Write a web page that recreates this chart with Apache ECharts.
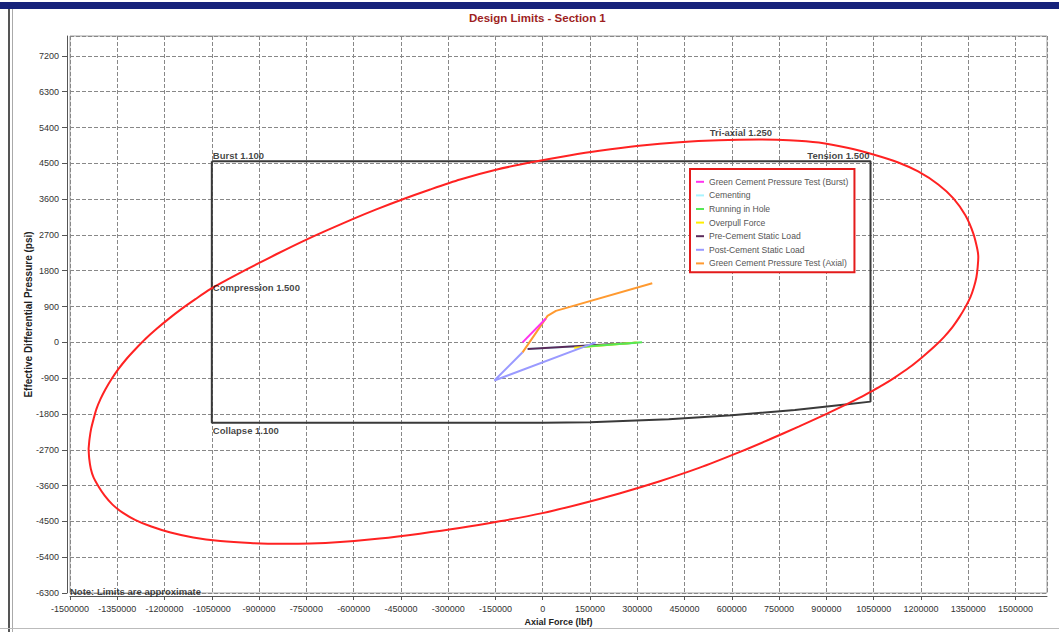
<!DOCTYPE html>
<html>
<head>
<meta charset="utf-8">
<title>Design Limits - Section 1</title>
<script src="https://cdn.jsdelivr.net/npm/echarts@6/dist/echarts.min.js"></script>
<style>
  html, body { margin: 0; padding: 0; background: #ffffff; }
  #chart { width: 1059px; height: 632px; }
</style>
</head>
<body>
<div id="chart"></div>
<script>
// ---- Axis settings (lbf / psi) ----
const xMin = -1500000, xMax = 1600000, xStep = 150000;
const yMin = -6300, yMax = 7700, yStep = 900;

// ---- Design limit envelope: burst top, tension right, collapse bottom, compression left ----
const designEnvelope = [
  [-1050000, 4550], [1040000, 4550], [1040000, -1490],
  [960000, -1560], [800000, -1700], [600000, -1830], [400000, -1930],
  [150000, -2010], [0, -2020], [-1050000, -2020], [-1050000, 4550]
];

// ---- Tri-axial 1.250 ellipse (axial force, differential pressure) ----
const triaxialEllipse = [
  [-1441000, -2675], [-1438000, -2424], [-1433000, -2174], [-1425000, -1923],
  [-1416000, -1672], [-1403000, -1421], [-1387000, -1171], [-1368000, -920],
  [-1346000, -669], [-1321000, -419], [-1292000, -168], [-1261000, 83],
  [-1226000, 334], [-1188000, 584], [-1147000, 835], [-1102000, 1086],
  [-1055000, 1336], [-998000, 1587], [-938000, 1838], [-877000, 2088],
  [-814000, 2339], [-748000, 2590], [-678000, 2840], [-605000, 3091],
  [-528000, 3342], [-446000, 3592], [-357000, 3843], [-262000, 4094],
  [-145000, 4345], [-23000, 4545], [84000, 4698], [180000, 4816],
  [306000, 4941], [433000, 5032], [559000, 5082], [685000, 5097],
  [781000, 5082], [876000, 5022], [970000, 4884], [1049000, 4721],
  [1128000, 4520], [1191000, 4295], [1255000, 3969], [1303000, 3618],
  [1341000, 3192], [1366000, 2740], [1379000, 2339], [1382000, 2138],
  [1380000, 1888], [1376000, 1637], [1368000, 1386], [1357000, 1136],
  [1341000, 885], [1322000, 634], [1300000, 384], [1273000, 133],
  [1241000, -118], [1205000, -366], [1164000, -627], [1119000, -872],
  [1078000, -1076], [1043000, -1231], [1006000, -1391], [965000, -1554],
  [892000, -1830], [812000, -2118], [717000, -2449], [622000, -2765],
  [496000, -3156], [369000, -3497], [243000, -3798], [116000, -4069],
  [-1000, -4292], [-137000, -4498], [-264000, -4668], [-390000, -4808],
  [-517000, -4929], [-643000, -5019], [-738000, -5057], [-833000, -5064],
  [-928000, -5044], [-1023000, -4994], [-1109000, -4906], [-1181000, -4781],
  [-1242000, -4630], [-1292000, -4467], [-1333000, -4279], [-1365000, -4079],
  [-1390000, -3853], [-1409000, -3628], [-1425000, -3402], [-1434000, -3176],
  [-1439000, -2925], [-1441000, -2675]
];

// ---- Load cases ----
const burstTest      = [[-64000, 0], [10000, 600]];
const cementing      = [[-48000, -168], [295000, -17]];
const runningInHole  = [[130000, -110], [315000, 0]];
const overpullForce  = [[100000, -135], [300000, -5]];
const preCement      = [[-48000, -168], [295000, -10]];
const postCement     = [[-64000, -250], [-153500, -960], [168000, 0]];
const axialTest      = [[-64000, -251], [15200, 667], [41800, 792], [347500, 1487]];

const loadNames = [
  'Green Cement Pressure Test (Burst)',
  'Cementing',
  'Running in Hole',
  'Overpull Force',
  'Pre-Cement Static Load',
  'Post-Cement Static Load',
  'Green Cement Pressure Test (Axial)'
];
const loadData = [burstTest, cementing, runningInHole, overpullForce, preCement, postCement, axialTest];
const loadColors = ['#ff33ee', '#a8f4ff', '#55e855', '#ffee00', '#5a2a5a', '#9a9aff', '#ff9a30'];
// draw order: underneath first
const drawOrder = [1, 4, 3, 2, 5, 6, 0];

// ---- Limit annotations [x, y, text, align, verticalAlign] ----
const limitLabels = [
  [-1050000, 4550, 'Burst 1.100', 'left', 'bottom'],
  [1040000, 4550, 'Tension 1.500', 'right', 'bottom'],
  [-1050000, 1390, 'Compression 1.500', 'left', 'middle'],
  [-1050000, -2020, 'Collapse 1.100', 'left', 'top'],
  [530000, 5272, 'Tri-axial 1.250', 'left', 'middle'],
  [-1500000, -6300, 'Note: Limits are approximate', 'left', 'bottom']
];
const labelOffsets = [[1, -1], [-1, -1], [1, 0], [1, 3], [0, 0], [0, 3]];

const FONT = '"Liberation Sans", Arial, sans-serif';
const chart = echarts.init(document.getElementById('chart'), null, { renderer: 'svg' });

const series = [
  {
    name: 'Design Envelope', type: 'line', data: designEnvelope,
    showSymbol: false, silent: true, z: 2,
    lineStyle: { color: '#3a3a3a', width: 2 }
  },
  {
    name: 'Tri-axial', type: 'line', data: triaxialEllipse,
    showSymbol: false, silent: true, smooth: 0.25, z: 3,
    lineStyle: { color: '#ff2222', width: 2 }
  }
];
drawOrder.forEach(function (i) {
  series.push({
    name: loadNames[i], type: 'line', data: loadData[i],
    showSymbol: false, z: 4,
    itemStyle: { color: loadColors[i] },
    lineStyle: { color: loadColors[i], width: 2 }
  });
});
series.push({
  name: 'Limit Labels', type: 'scatter', symbolSize: 0, silent: true, z: 6,
  data: limitLabels.map(function (d, i) {
    return {
      value: [d[0], d[1]], name: d[2],
      label: {
        show: true, position: 'inside', formatter: d[2],
        align: d[3], verticalAlign: d[4], offset: labelOffsets[i],
        fontFamily: FONT, fontSize: 9.5, fontWeight: 'bold', color: '#111'
      }
    };
  })
});

const hideOffTick = function (step) {
  return function (v) { return Math.abs(v % step) < 1e-6 ? String(v) : ''; };
};

chart.setOption({
  animation: false,
  backgroundColor: '#ffffff',
  textStyle: { fontFamily: FONT },
  grid: {
    left: 70, right: 12, top: 36, bottom: 39,
    show: true, borderColor: '#a0a0a0', borderWidth: 1, backgroundColor: 'transparent'
  },
  xAxis: {
    type: 'value', min: xMin, max: xMax, interval: xStep, offset: 3,
    name: 'Axial Force (lbf)', nameLocation: 'middle', nameGap: 21, nameMoveOverlap: false,
    nameTextStyle: { fontFamily: FONT, fontSize: 9, fontWeight: 'bold', color: '#222' },
    axisLine: { show: true, onZero: false, lineStyle: { color: '#555', width: 1 } },
    axisTick: { show: true, length: 4, lineStyle: { color: '#555' } },
    axisLabel: { fontFamily: FONT, fontSize: 9, color: '#333', margin: 8,
                 showMaxLabel: false, formatter: hideOffTick(xStep) },
    splitLine: { show: true, lineStyle: { color: '#888', width: 1, type: [4, 2] } }
  },
  yAxis: {
    type: 'value', min: yMin, max: yMax, interval: yStep, offset: 3,
    name: 'Effective Differential Pressure (psi)', nameLocation: 'middle', nameGap: 34,
    nameRotate: 90, nameMoveOverlap: false,
    nameTextStyle: { fontFamily: FONT, fontSize: 10, fontWeight: 'bold', color: '#222' },
    axisLine: { show: true, onZero: false, lineStyle: { color: '#555', width: 1 } },
    axisTick: { show: true, length: 5, lineStyle: { color: '#555' } },
    axisLabel: { fontFamily: FONT, fontSize: 9, color: '#333', margin: 8,
                 showMaxLabel: false, formatter: hideOffTick(yStep) },
    splitLine: { show: true, lineStyle: { color: '#888', width: 1, type: [4, 2] } }
  },
  legend: {
    data: loadNames, orient: 'vertical', left: 690, top: 169,
    icon: 'rect', itemWidth: 8, itemHeight: 2, itemGap: 0,
    padding: [6, 6, 2, 6],
    backgroundColor: '#ffffff', borderColor: '#e41b1b', borderWidth: 2,
    textStyle: { fontFamily: FONT, fontSize: 8.6, color: '#555', lineHeight: 13.6 },
    selectedMode: false, z: 10
  },
  graphic: [
    { type: 'rect', shape: { x: 0, y: 2, width: 1059, height: 7 }, style: { fill: '#16227a' }, silent: true },
    { type: 'rect', shape: { x: 8, y: 9, width: 2, height: 623 }, style: { fill: '#555' }, silent: true },
    { type: 'rect', shape: { x: 12, y: 9, width: 1, height: 623 }, style: { fill: '#aaa' }, silent: true },
    { type: 'rect', shape: { x: 0, y: 628, width: 1059, height: 1 }, style: { fill: '#bbb' }, silent: true },
    {
      type: 'text', left: 469, top: 12, silent: true,
      style: { text: 'Design Limits - Section 1', fontFamily: FONT, fontSize: 11.5, fontWeight: 'bold', fill: '#9e1f1f' }
    }
  ],
  series: series
});
</script>
</body>
</html>
